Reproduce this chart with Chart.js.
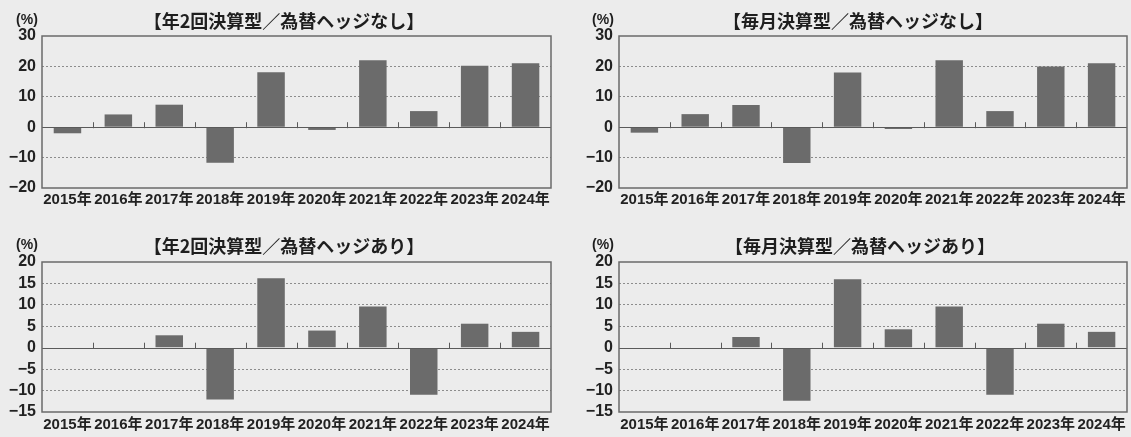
<!DOCTYPE html>
<html>
<head>
<meta charset="utf-8">
<script src="https://cdn.jsdelivr.net/npm/chart.js@4.4.1/dist/chart.umd.min.js"></script>
<style>
  html, body { margin: 0; padding: 0; background: #ececec; }
  #wrap { position: relative; width: 1131px; height: 437px; overflow: hidden; }
  .box { position: absolute; }
</style>
</head>
<body>
<div id="wrap">
  <div class="box" style="left:0;top:0;width:560px;height:215px;"><canvas id="c1"></canvas></div>
  <div class="box" style="left:560px;top:0;width:571px;height:215px;"><canvas id="c2"></canvas></div>
  <div class="box" style="left:0;top:220px;width:560px;height:217px;"><canvas id="c3"></canvas></div>
  <div class="box" style="left:560px;top:220px;width:571px;height:217px;"><canvas id="c4"></canvas></div>
</div>
<script>
// data (%)
const years = ['2015年', '2016年', '2017年', '2018年', '2019年', '2020年', '2021年', '2022年', '2023年', '2024年'];
const semiNoHedge = [-2.0, 4.2, 7.4, -11.7, 18.1, -0.9, 22.0, 5.3, 20.2, 21.0];
const monthlyNoHedge = [-1.8, 4.3, 7.3, -11.8, 18.0, -0.6, 22.0, 5.3, 20.0, 21.0];
const semiHedge = [null, null, 2.9, -12.1, 16.2, 4.0, 9.6, -11.0, 5.6, 3.7];
const monthlyHedge = [null, null, 2.5, -12.4, 16.0, 4.3, 9.6, -11.0, 5.6, 3.7];

const FONT = "'Liberation Sans', 'Noto Sans CJK JP', sans-serif";
const TITLE_FONT = "'Noto Sans CJK JP', sans-serif";

// frame, zero line, category ticks, title and unit
const decor = {
    id: 'decor',
    afterDatasetsDraw(chart, args, opts) {
        const { ctx, chartArea: a, scales } = chart;
        const y0 = scales.y.getPixelForValue(0);
        ctx.save();
        ctx.strokeStyle = '#5a5a5a';
        ctx.lineWidth = 1;
        ctx.beginPath();
        ctx.moveTo(a.left, Math.round(y0) + 0.5);
        ctx.lineTo(a.right, Math.round(y0) + 0.5);
        const n = chart.data.labels.length;
        for (let i = 0; i < n - 1; i++) {
            const x = Math.round((scales.x.getPixelForValue(i) + scales.x.getPixelForValue(i + 1)) / 2) + 0.5;
            ctx.moveTo(x, y0 - 5);
            ctx.lineTo(x, y0 + 1);
        }
        ctx.stroke();
        ctx.strokeStyle = '#6a6a6a';
        ctx.lineWidth = 1.5;
        ctx.strokeRect(a.left, a.top, a.right - a.left, a.bottom - a.top);
        ctx.restore();
    },
    afterDraw(chart, args, opts) {
        const ctx = chart.ctx;
        ctx.save();
        ctx.fillStyle = '#1e1e1e';
        ctx.textBaseline = 'middle';
        ctx.textAlign = 'center';
        ctx.font = 'bold 18px ' + TITLE_FONT;
        ctx.fillText(opts.title, opts.titleX, opts.titleY);
        ctx.font = 'bold 14px ' + FONT;
        ctx.fillText('(%)', opts.unitX, opts.titleY - 1);
        ctx.restore();
    }
};

function makeChart(id, title, values, min, max, step, geo) {
    return new Chart(document.getElementById(id), {
        type: 'bar',
        data: {
            labels: years,
            datasets: [{
                data: values,
                backgroundColor: '#6b6b6b',
                borderWidth: 0,
                barPercentage: 0.54,
                categoryPercentage: 1
            }]
        },
        options: {
            responsive: true,
            maintainAspectRatio: false,
            animation: false,
            layout: { padding: { top: geo.top, right: geo.right, left: 0, bottom: 0 } },
            scales: {
                x: {
                    afterFit: s => { s.height = geo.xh; },
                    grid: { display: false, drawTicks: false },
                    border: { display: false },
                    ticks: {
                        color: '#222',
                        font: { family: FONT, size: 15, weight: 'bold' },
                        autoSkip: false,
                        maxRotation: 0,
                        padding: geo.xpad
                    }
                },
                y: {
                    min: min,
                    max: max,
                    afterFit: s => { s.width = geo.yw; },
                    grid: {
                        drawTicks: false,
                        color: c => (c.tick.value === 0 || c.tick.value === min || c.tick.value === max) ? 'rgba(0,0,0,0)' : '#8c8c8c'
                    },
                    border: { display: false, dash: [2, 2] },
                    ticks: {
                        stepSize: step,
                        autoSkip: false,
                        color: '#222',
                        padding: 6,
                        font: { family: FONT, size: 16, weight: 'bold' },
                        callback: v => String(v).replace('-', '−')
                    }
                }
            },
            plugins: {
                legend: { display: false },
                tooltip: { enabled: false },
                decor: { title: title, titleX: geo.titleX, titleY: geo.titleY, unitX: geo.unitX }
            }
        },
        plugins: [decor]
    });
}

makeChart('c1', '【年2回決算型／為替ヘッジなし】', semiNoHedge, -20, 30, 10,
    { top: 36, right: 9, yw: 42, xh: 27, xpad: 3, titleX: 284, titleY: 21, unitX: 27 });
makeChart('c2', '【毎月決算型／為替ヘッジなし】', monthlyNoHedge, -20, 30, 10,
    { top: 36, right: 4, yw: 59, xh: 27, xpad: 3, titleX: 298, titleY: 21, unitX: 43 });
makeChart('c3', '【年2回決算型／為替ヘッジあり】', semiHedge, -15, 20, 5,
    { top: 42, right: 9, yw: 42, xh: 25, xpad: 4, titleX: 284, titleY: 26, unitX: 27 });
makeChart('c4', '【毎月決算型／為替ヘッジあり】', monthlyHedge, -15, 20, 5,
    { top: 42, right: 4, yw: 59, xh: 25, xpad: 4, titleX: 300, titleY: 26, unitX: 43 });
</script>
</body>
</html>
